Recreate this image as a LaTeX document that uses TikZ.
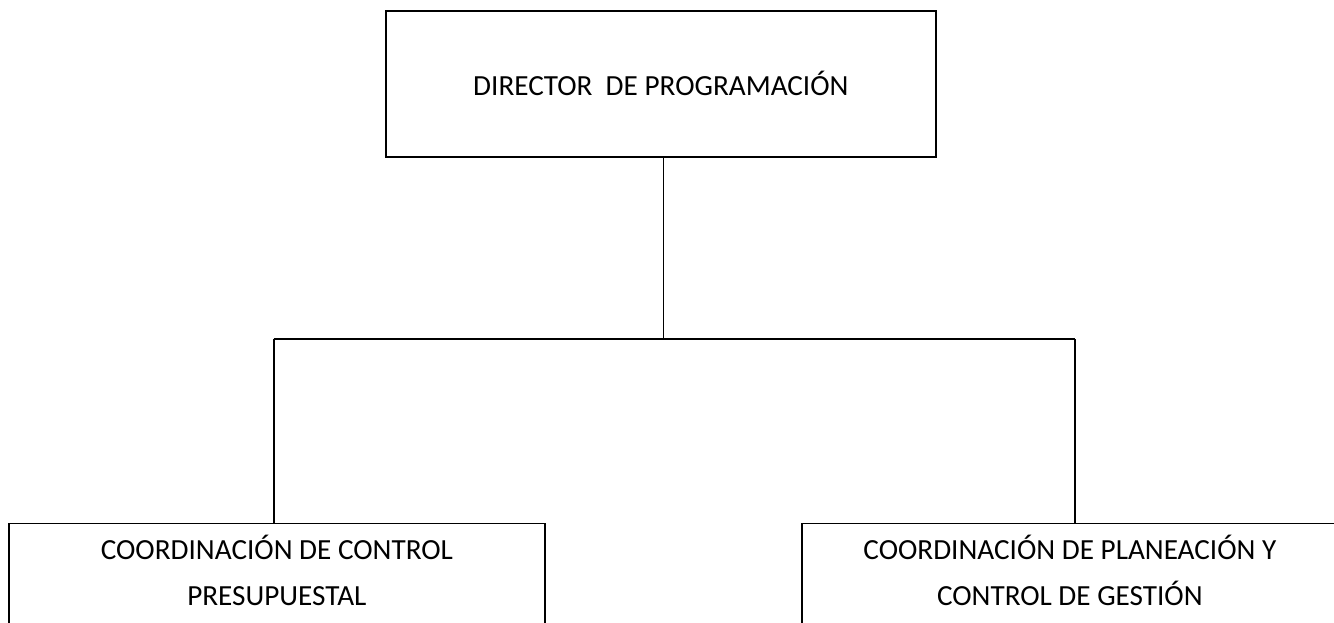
\documentclass[tikz,border=0pt]{standalone}
\usepackage{fontspec}
\setmainfont{Carlito}
\tikzset{
  box/.style={draw=black, line width=1.3pt, rectangle, inner sep=0pt, anchor=north west},
  lbl/.style={font=\fontsize{21.9}{34}\selectfont, align=center, text=black},
  conn/.style={draw=black, line width=1.4pt}
}
\begin{document}
\begin{tikzpicture}[x=0.75pt,y=-0.75pt]
\useasboundingbox (0,0) rectangle (1334,622);
\clip (0,0) rectangle (1334,622);
\node[box, minimum width=412.5pt, minimum height=109.5pt] (top) at (385,10) {};
\node[lbl] (toptxt) at (top.center) {DIRECTOR\ \ DE PROGRAMACIÓN};
\node[box, minimum width=402pt, minimum height=120pt] (lb) at (8,522.7) {};
\node[box, minimum width=402pt, minimum height=120pt] (rb) at (801,522.7) {};
\node[lbl, anchor=north] (ltxt) at ([yshift=-6pt]lb.north) {COORDINACIÓN DE CONTROL\\PRESUPUESTAL};
\node[lbl, anchor=north] (rtxt) at ([yshift=-6pt]rb.north) {COORDINACIÓN DE PLANEACIÓN Y\\CONTROL DE GESTIÓN};
\coordinate (mid) at ([xshift=2pt]top.south |- 0,339);
\coordinate (lc) at (273.7,339);
\coordinate (rc) at (1075,339);
\draw[conn] ([xshift=2pt]top.south) -- (mid);
\draw[conn] (lc) -- (rc);
\draw[conn] (lc) -- (lc |- lb.north);
\draw[conn] (rc) -- (rc |- rb.north);
\end{tikzpicture}
\end{document}
